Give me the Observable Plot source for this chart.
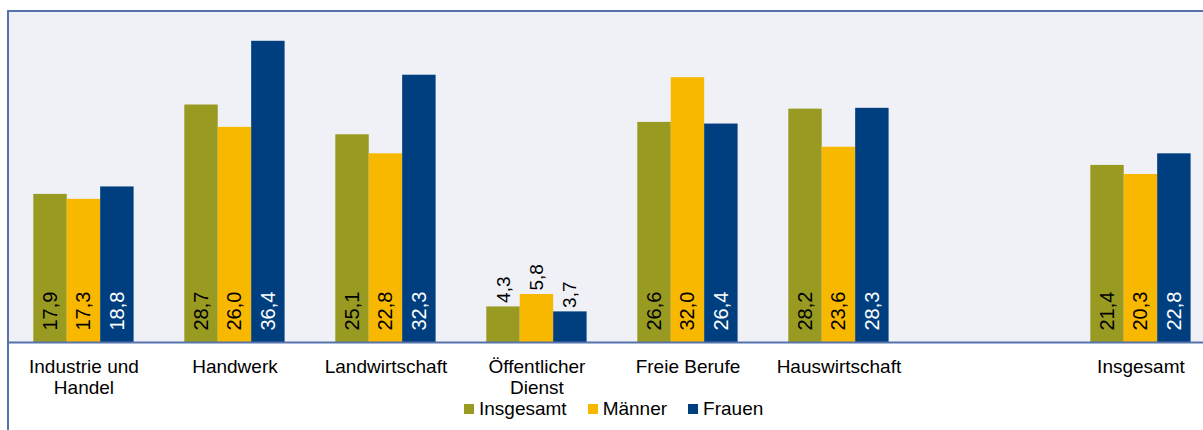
<!DOCTYPE html>
<html><head><meta charset="utf-8">
<script src="https://cdn.jsdelivr.net/npm/d3@7"></script>
<script src="https://cdn.jsdelivr.net/npm/@observablehq/plot@0.6"></script>
<style>
html,body{margin:0;padding:0;background:#fff;}
body{width:1203px;height:430px;overflow:hidden;position:relative;font-family:"Liberation Sans",Arial,sans-serif;}
#chart{position:absolute;left:0;top:0;}
#frame{position:absolute;left:7px;top:10px;width:1220px;height:440px;border-left:2px solid #5572aa;border-top:2px solid #5572aa;pointer-events:none;box-sizing:border-box;}
#legend{position:absolute;left:464px;top:398px;}
#legend .lg-swatches{font-family:"Liberation Sans",Arial,sans-serif!important;font-size:19px!important;margin:0!important;min-height:0!important;color:#000;}
#legend .lg-swatch{margin-right:21px!important;}
#legend .lg-swatch > svg{margin-right:5px!important;}
</style>
</head><body>
<div id="chart"></div>
<div id="legend"></div>
<div id="frame"></div>
<script>
const categories = ["Industrie und\nHandel", "Handwerk", "Landwirtschaft", "Öffentlicher\nDienst", "Freie Berufe", "Hauswirtschaft", "Insgesamt"];
const seriesNames = ["Insgesamt", "Männer", "Frauen"];
const insgesamt = [17.9, 28.7, 25.1, 4.3, 26.6, 28.2, 21.4];
const maenner   = [17.3, 26.0, 22.8, 5.8, 32.0, 23.6, 20.3];
const frauen    = [18.8, 36.4, 32.3, 3.7, 26.4, 28.3, 22.8];
const seriesValues = [insgesamt, maenner, frauen];
const seriesColors = ["#989a21", "#f9b800", "#003f7f"];
const labelColors = ["#000", "#000", "#fff"];

const gapKey = " ";
const xDomain = [...categories.slice(0, 6), gapKey, categories[6]];
const step = 151, padInner = 0.3358;
const bw = step * (1 - padInner);
const fmt = v => v.toFixed(1).replace(".", ",");

const rows = seriesNames.map((s, si) => categories.map((c, ci) => ({category: c, series: s, value: seriesValues[si][ci]})));

const marks = [
  Plot.frame({fill: "#f0f1f7", stroke: null})
];
seriesNames.forEach((s, si) => {
  marks.push(Plot.barY(rows[si], {
    x: "category", y: "value", fill: seriesColors[si],
    insetLeft: si * bw / 3, insetRight: (2 - si) * bw / 3
  }));
});
seriesNames.forEach((s, si) => {
  marks.push(Plot.text(rows[si].filter(d => d.value >= 10), {
    x: "category", y: 0, text: d => fmt(d.value), rotate: -90,
    textAnchor: "start", lineAnchor: "middle", dx: (si - 1) * bw / 3, dy: -12,
    fill: labelColors[si], fontSize: 20
  }));
  marks.push(Plot.text(rows[si].filter(d => d.value < 10), {
    x: "category", y: "value", text: d => fmt(d.value), rotate: -90,
    textAnchor: "start", lineAnchor: "middle", dx: (si - 1) * bw / 3, dy: -4,
    fill: "#000", fontSize: 19
  }));
});
marks.push(Plot.ruleY([0], {stroke: "#5572aa", strokeWidth: 2}));
marks.push(Plot.axisX({tickSize: 0, tickPadding: 16, fontSize: 19, lineHeight: 1.1, label: null, fill: "#000"}));

const chart = Plot.plot({
  width: 1203, height: 398,
  marginLeft: 8, marginRight: 0, marginTop: 11, marginBottom: 56,
  style: {fontFamily: "'Liberation Sans', Arial, sans-serif", fontSize: "19px", background: "transparent", color: "#000", overflow: "visible"},
  x: {type: "band", domain: xDomain, range: [7.95, 7.95 + 8 * step], paddingInner: padInner, paddingOuter: padInner / 2, align: 0.5, round: false, axis: null},
  y: {domain: [0, 40], axis: null},
  marks
});
document.getElementById("chart").appendChild(chart);

const legend = Plot.legend({
  legend: "swatches",
  color: {type: "ordinal", domain: seriesNames, range: seriesColors},
  swatchSize: 10, className: "lg"
});
document.getElementById("legend").appendChild(legend);
</script>
</body></html>
